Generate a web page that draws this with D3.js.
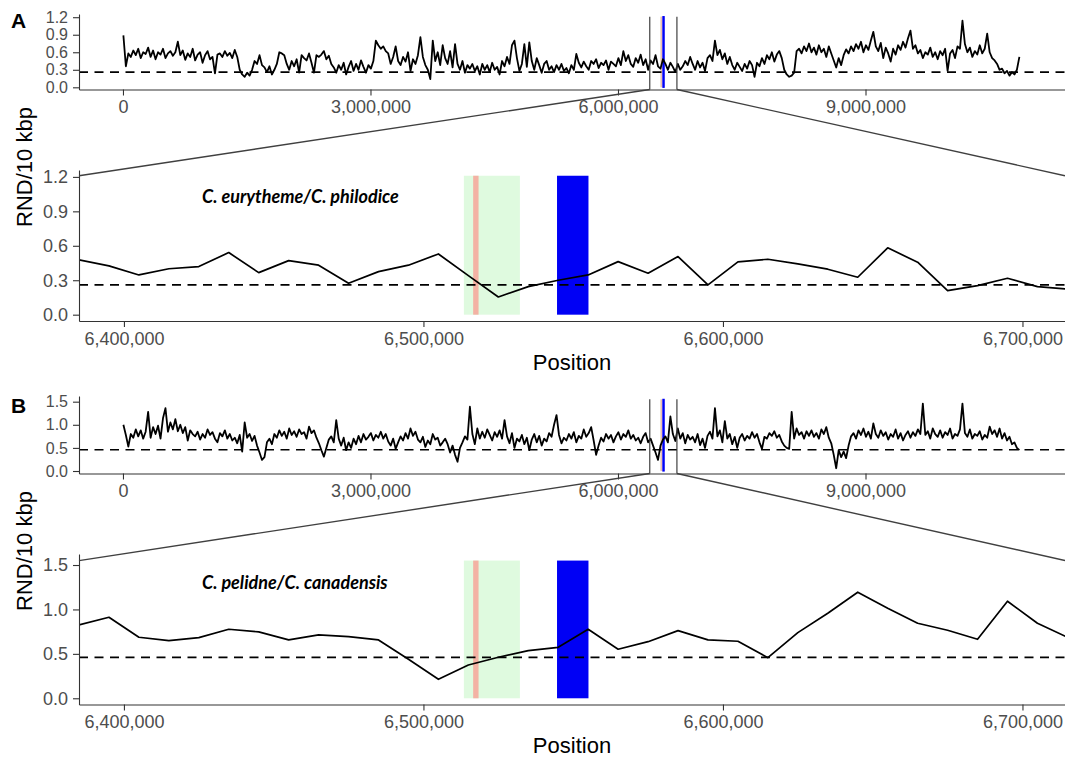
<!DOCTYPE html>
<html>
<head>
<meta charset="utf-8">
<script src="https://cdn.jsdelivr.net/npm/d3@7"></script>
<style>
  body { margin: 0; background: #fff; }
  svg { display: block; font-family: "Liberation Sans", Arial, sans-serif; }
  .tick text { fill: #4d4d4d; font-size: 18px; }
  .ov-y .tick text { font-size: 16px; }
  .domain, .tick line { stroke: #333; stroke-width: 1.1; }
</style>
</head>
<body>
<svg></svg>
<script>
// Genome-wide RND, 30 kb steps starting at 5 kb
const ovStart = 5000, ovStep = 30000;

const rndA = [
  0.89, 0.36, 0.58, 0.52, 0.63, 0.55, 0.66, 0.50, 0.60, 0.57,
  0.68, 0.52, 0.63, 0.48, 0.60, 0.56, 0.66, 0.50, 0.58, 0.62,
  0.54, 0.60, 0.78, 0.55, 0.63, 0.47, 0.58, 0.52, 0.66, 0.46,
  0.56, 0.60, 0.42, 0.55, 0.62, 0.48, 0.52, 0.24, 0.56, 0.58,
  0.52, 0.62, 0.54, 0.59, 0.50, 0.64, 0.52, 0.30, 0.22, 0.18,
  0.25, 0.20, 0.30, 0.45, 0.40, 0.55, 0.38, 0.34, 0.26, 0.36,
  0.22, 0.30, 0.40, 0.60, 0.58, 0.55, 0.40, 0.30, 0.45, 0.36,
  0.48, 0.25, 0.55, 0.50, 0.46, 0.58, 0.42, 0.25, 0.55, 0.52,
  0.56, 0.62, 0.48, 0.54, 0.40, 0.34, 0.25, 0.38, 0.30, 0.42,
  0.22, 0.35, 0.45, 0.28, 0.40, 0.30, 0.46, 0.35, 0.25, 0.38,
  0.32, 0.45, 0.80, 0.72, 0.66, 0.70, 0.62, 0.58, 0.40, 0.52,
  0.70, 0.45, 0.38, 0.52, 0.44, 0.60, 0.28, 0.48, 0.40, 0.55,
  0.86, 0.52, 0.38, 0.30, 0.14, 0.80, 0.45, 0.60, 0.38, 0.72,
  0.50, 0.40, 0.62, 0.34, 0.74, 0.40, 0.30, 0.45, 0.25, 0.38,
  0.32, 0.40, 0.28, 0.36, 0.22, 0.40, 0.30, 0.38, 0.26, 0.42,
  0.30, 0.35, 0.22, 0.45, 0.36, 0.52, 0.40, 0.72, 0.80, 0.50,
  0.28, 0.40, 0.74, 0.35, 0.77, 0.45, 0.30, 0.50, 0.38, 0.25,
  0.40, 0.45, 0.30, 0.36, 0.26, 0.38, 0.30, 0.40, 0.28, 0.33,
  0.24, 0.38, 0.30, 0.57, 0.42, 0.34, 0.44, 0.36, 0.30, 0.45,
  0.40, 0.48, 0.33, 0.42, 0.38, 0.46, 0.30, 0.44, 0.40, 0.36,
  0.50, 0.38, 0.62, 0.45, 0.55, 0.40, 0.35, 0.50, 0.42, 0.56,
  0.38, 0.48, 0.30, 0.46, 0.40, 0.55, 0.36, 0.32, 0.48, 0.40,
  0.30, 0.42, 0.35, 0.26, 0.40, 0.30, 0.36, 0.45, 0.38, 0.52,
  0.40, 0.30, 0.45, 0.34, 0.42, 0.28, 0.50, 0.55, 0.45, 0.80,
  0.55, 0.64, 0.48, 0.58, 0.40, 0.52, 0.38, 0.30, 0.42, 0.35,
  0.28, 0.40, 0.32, 0.45, 0.38, 0.18, 0.42, 0.36, 0.50, 0.40,
  0.55, 0.48, 0.60, 0.44, 0.56, 0.62, 0.50, 0.30, 0.22, 0.18,
  0.20, 0.25, 0.62, 0.66, 0.58, 0.70, 0.62, 0.75, 0.60, 0.68,
  0.56, 0.72, 0.60, 0.66, 0.52, 0.70, 0.58, 0.46, 0.34, 0.50,
  0.38, 0.55, 0.65, 0.58, 0.70, 0.62, 0.74, 0.66, 0.78, 0.60,
  0.72, 0.64, 0.80, 0.95, 0.70, 0.62, 0.76, 0.50, 0.68, 0.58,
  0.44, 0.66, 0.56, 0.72, 0.64, 0.78, 0.68, 0.84, 0.97, 0.66,
  0.72, 0.58, 0.64, 0.50, 0.60, 0.56, 0.68, 0.52, 0.60, 0.48,
  0.62, 0.55, 0.66, 0.28, 0.58, 0.64, 0.50, 0.70, 0.66, 1.14,
  0.74, 0.60, 0.68, 0.52, 0.62, 0.56, 0.72, 0.58, 0.66, 0.92,
  0.60, 0.50, 0.46, 0.40, 0.30, 0.32, 0.24, 0.28, 0.20, 0.26,
  0.22, 0.30, 0.52
];

const rndB = [
  1.00, 0.78, 0.53, 0.80, 0.72, 0.90, 0.75, 0.88, 0.70, 0.85,
  1.28, 0.72, 0.95, 0.80, 0.98, 0.70, 1.14, 1.36, 0.85, 1.05,
  0.90, 1.12, 0.86, 1.00, 0.82, 0.95, 0.66, 0.88, 0.80, 0.75,
  0.85, 0.68, 0.80, 0.72, 0.90, 0.78, 0.84, 0.70, 0.62, 0.82,
  0.75, 0.88, 0.70, 0.80, 0.66, 0.72, 0.60, 0.78, 0.42, 1.05,
  0.72, 0.80, 0.65, 0.76, 0.55, 0.40, 0.24, 0.30, 0.62, 0.70,
  0.58, 0.80, 0.72, 0.88, 0.76, 0.85, 0.70, 0.92, 0.78, 0.86,
  0.74, 0.90, 0.80, 0.84, 0.70, 0.96, 0.82, 0.88, 0.72, 0.60,
  0.45, 0.31, 0.50, 0.68, 0.75, 0.62, 1.10, 0.70, 0.55, 0.72,
  0.45, 0.62, 0.50, 0.70, 0.58, 0.76, 0.62, 0.80, 0.68, 0.74,
  0.82, 0.66, 0.78, 0.72, 0.85, 0.70, 0.80, 0.64, 0.55, 0.70,
  0.48, 0.62, 0.75, 0.66, 0.82, 0.70, 0.92, 0.76, 0.85, 0.68,
  0.62, 0.74, 0.52, 0.66, 0.58, 0.80, 0.68, 0.72, 0.55, 0.62,
  0.70, 0.58, 0.40, 0.55, 0.35, 0.20, 0.50, 0.62, 0.75, 0.68,
  1.39, 0.80, 0.58, 0.92, 0.70, 0.85, 0.72, 0.90, 0.78, 0.66,
  0.84, 0.74, 0.88, 0.70, 1.10, 0.75, 0.60, 0.82, 0.50, 0.70,
  0.64, 0.78, 0.58, 0.72, 0.45, 0.68, 0.80, 0.62, 0.76, 0.55,
  0.70, 0.64, 0.82, 0.74, 1.00, 1.21, 0.78, 0.60, 0.72, 0.66,
  0.80, 0.70, 0.84, 0.62, 0.76, 0.70, 0.90, 0.74, 0.82, 0.95,
  0.66, 0.35, 0.55, 0.72, 0.64, 0.80, 0.70, 0.78, 0.62, 0.75,
  0.84, 0.68, 0.80, 0.74, 0.88, 0.70, 0.78, 0.66, 0.72, 0.60,
  0.74, 0.82, 0.62, 0.70, 0.55, 0.40, 0.24, 0.55, 0.68, 0.75,
  0.62, 1.18, 0.80, 0.65, 0.92, 0.70, 0.82, 0.60, 0.78, 0.68,
  0.74, 0.62, 0.80, 0.56, 0.70, 0.50, 0.76, 0.85, 0.70, 1.36,
  0.75, 0.88, 0.62, 1.08, 0.70, 0.80, 0.58, 0.74, 0.50, 0.72,
  0.80, 0.66, 0.76, 0.70, 0.84, 0.72, 0.80, 0.62, 0.48, 0.74,
  0.70, 0.82, 0.76, 0.86, 0.72, 0.78, 0.64, 0.55, 0.50, 0.48,
  1.28, 0.70, 0.92, 0.78, 0.84, 0.70, 0.86, 0.76, 0.88, 0.74,
  0.82, 0.70, 0.90, 0.80, 0.95, 0.72, 0.60, 0.35, 0.06, 0.45,
  0.30, 0.42, 0.28, 0.55, 0.75, 0.82, 0.70, 0.88, 0.78, 0.92,
  0.74, 0.85, 0.70, 1.03, 0.80, 0.72, 0.88, 0.76, 0.84, 0.68,
  0.80, 0.74, 0.90, 0.70, 0.82, 0.66, 0.78, 0.86, 0.72, 0.84,
  0.76, 0.90, 0.80, 1.46, 0.78, 0.86, 0.70, 0.92, 0.80, 0.74,
  0.88, 0.72, 0.84, 0.78, 0.92, 0.70, 0.80, 0.76, 0.90, 1.46,
  0.82, 0.74, 0.90, 0.70, 0.80, 0.76, 0.86, 0.68, 0.78, 0.72,
  0.96, 0.80, 0.88, 0.74, 0.92, 0.70, 0.82, 0.66, 0.74, 0.58,
  0.62, 0.50, 0.45
];

// Zoomed region, 10 kb windows
const zoomPos = [
  6385000, 6395000, 6405000, 6415000, 6425000, 6435000, 6445000, 6455000, 6465000, 6475000,
  6485000, 6495000, 6505000, 6515000, 6525000, 6535000, 6545000, 6555000, 6565000, 6575000,
  6585000, 6595000, 6605000, 6615000, 6625000, 6635000, 6645000, 6655000, 6665000, 6675000,
  6685000, 6695000, 6705000, 6715000
];
const zoomA = [
  0.477, 0.425, 0.346, 0.400, 0.419, 0.541, 0.366, 0.471, 0.431, 0.274,
  0.375, 0.431, 0.529, 0.340, 0.154, 0.244, 0.300, 0.346, 0.462, 0.361,
  0.506, 0.259, 0.460, 0.483, 0.442, 0.396, 0.326, 0.582, 0.457, 0.209,
  0.253, 0.317, 0.244, 0.224
];
const zoomB = [
  0.825, 0.912, 0.687, 0.649, 0.683, 0.777, 0.747, 0.657, 0.713, 0.694,
  0.657, 0.440, 0.214, 0.375, 0.462, 0.536, 0.574, 0.777, 0.552, 0.637,
  0.761, 0.657, 0.642, 0.457, 0.739, 0.957, 1.194, 1.013, 0.845, 0.766,
  0.664, 1.092, 0.845, 0.687
];

// Genome-wide thresholds and top of the highlight boxes
const thresholds = [0.26, 0.46];
const boxTops = [1.21, 1.55];
const speciesLabels = ["C. eurytheme/C. philodice", "C. pelidne/C. canadensis"];
const panelTags = ["A", "B"];

// Highlighted intervals
const regionNames = ["green", "salmon", "blue"];
const regionStart = [6513500, 6516600, 6544600];
const regionEnd = [6532200, 6518400, 6555100];
const regionColors = { green: "#dffadf", salmon: "#f3b2a4", blue: "#0000f5" };

const zoomRange = [6385000, 6714200];
const ovTickValues = [0, 3000000, 6000000, 9000000];
const zoomTickValues = [6400000, 6500000, 6600000, 6700000];
const yTicksA = [0, 0.3, 0.6, 0.9, 1.2];
const yTicksB = [0, 0.5, 1.0, 1.5];

const width = 1065, height = 758;
const left = 79, right = 1065;

const svg = d3.select("svg")
    .attr("width", width)
    .attr("height", height);

// Layout of each figure part (overview + zoom)
const layout = [
  { ovDomain: [-0.0375, 1.255], ovRange: [89.5, 14], zDomain: [-0.055, 1.26], zRange: [321, 170],
    yTicks: yTicksA, tagY: 28, titleY: 167, posY: 370, speciesY: 203 },
  { ovDomain: [-0.054, 1.623], ovRange: [473.5, 396], zDomain: [-0.07, 1.624], zRange: [704.5, 554],
    yTicks: yTicksB, tagY: 413, titleY: 551, posY: 753, speciesY: 589 }
];

const xO = d3.scaleLinear().domain([-533000, 11418000]).range([left, right]);
const xZ = d3.scaleLinear().domain(zoomRange).range([left, right]);

const regions = regionNames.map((n, i) => ({ name: n, start: regionStart[i], end: regionEnd[i] }));

function drawPart(k, ovValues, zValues) {
  const L = layout[k];
  const yO = d3.scaleLinear().domain(L.ovDomain).range(L.ovRange);
  const yZ = d3.scaleLinear().domain(L.zDomain).range(L.zRange);
  const g = svg.append("g");
  const fmt = d3.format(",");

  // clip paths
  const clipO = "clipO" + k, clipZ = "clipZ" + k;
  svg.append("clipPath").attr("id", clipO).append("rect")
    .attr("x", left).attr("y", L.ovRange[1]).attr("width", right - left).attr("height", L.ovRange[0] - L.ovRange[1]);
  svg.append("clipPath").attr("id", clipZ).append("rect")
    .attr("x", left).attr("y", L.zRange[1]).attr("width", right - left).attr("height", L.zRange[0] - L.zRange[1]);

  // ---- overview ----
  const ov = ovValues.map((v, i) => ({ pos: ovStart + i * ovStep, v }));

  g.append("g").attr("clip-path", `url(#${clipO})`)
    .selectAll("rect").data(regions).join("rect")
      .attr("x", d => xO(d.start))
      .attr("width", d => Math.max(1.2, xO(d.end) - xO(d.start)))
      .attr("y", yO(boxTops[k]))
      .attr("height", yO(0) - yO(boxTops[k]))
      .attr("fill", d => regionColors[d.name])
      .attr("stroke", d => d.name === "blue" ? regionColors.blue : "none")
      .attr("stroke-width", 1.2);

  g.append("path")
    .datum(ov)
    .attr("clip-path", `url(#${clipO})`)
    .attr("fill", "none")
    .attr("stroke", "#000")
    .attr("stroke-width", 1.8)
    .attr("stroke-linejoin", "round")
    .attr("d", d3.line().x(d => xO(d.pos)).y(d => yO(d.v)));

  g.append("line")
    .attr("x1", left).attr("x2", right)
    .attr("y1", yO(thresholds[k])).attr("y2", yO(thresholds[k]))
    .attr("stroke", "#000").attr("stroke-width", 1.6).attr("stroke-dasharray", "9,6.5");

  // zoom window markers
  g.selectAll(".win").data(zoomRange).join("line")
    .attr("class", "win")
    .attr("x1", d => xO(d)).attr("x2", d => xO(d))
    .attr("y1", yO(boxTops[k])).attr("y2", L.ovRange[0])
    .attr("stroke", "#404040").attr("stroke-width", 1.2);

  g.append("g")
    .attr("class", "ov-y")
    .attr("transform", `translate(${left},0)`)
    .call(d3.axisLeft(yO).tickValues(L.yTicks).tickFormat(d3.format(".1f")).tickSize(6).tickPadding(5).tickSizeOuter(0));
  g.append("g")
    .attr("transform", `translate(0,${L.ovRange[0]})`)
    .call(d3.axisBottom(xO).tickValues(ovTickValues).tickFormat(fmt).tickSize(6).tickPadding(5).tickSizeOuter(0));

  // ---- zoom ----
  const zd = zoomPos.map((p, i) => ({ pos: p, v: zValues[i] }));

  g.append("g").attr("clip-path", `url(#${clipZ})`)
    .selectAll("rect").data(regions).join("rect")
      .attr("x", d => xZ(d.start))
      .attr("width", d => xZ(d.end) - xZ(d.start))
      .attr("y", yZ(boxTops[k]))
      .attr("height", yZ(0) - yZ(boxTops[k]))
      .attr("fill", d => regionColors[d.name]);

  g.append("line")
    .attr("x1", left).attr("x2", right)
    .attr("y1", yZ(thresholds[k])).attr("y2", yZ(thresholds[k]))
    .attr("stroke", "#000").attr("stroke-width", 1.6).attr("stroke-dasharray", "9,6.5");

  g.append("path")
    .datum(zd)
    .attr("clip-path", `url(#${clipZ})`)
    .attr("fill", "none")
    .attr("stroke", "#000")
    .attr("stroke-width", 1.7)
    .attr("stroke-linejoin", "round")
    .attr("d", d3.line().x(d => xZ(d.pos)).y(d => yZ(d.v)));

  g.append("g")
    .attr("transform", `translate(${left},0)`)
    .call(d3.axisLeft(yZ).tickValues(L.yTicks).tickFormat(d3.format(".1f")).tickSize(6).tickPadding(5).tickSizeOuter(0));
  g.append("g")
    .attr("transform", `translate(0,${L.zRange[0]})`)
    .call(d3.axisBottom(xZ).tickValues(zoomTickValues).tickFormat(fmt).tickSize(6).tickPadding(5).tickSizeOuter(0));

  // connectors from overview window to zoom panel
  g.append("line")
    .attr("x1", xO(zoomRange[0])).attr("y1", L.ovRange[0])
    .attr("x2", left).attr("y2", yZ(boxTops[k]))
    .attr("stroke", "#404040").attr("stroke-width", 1.4);
  g.append("line")
    .attr("x1", xO(zoomRange[1])).attr("y1", L.ovRange[0])
    .attr("x2", right).attr("y2", yZ(boxTops[k]))
    .attr("stroke", "#404040").attr("stroke-width", 1.4);

  // species label
  g.append("text")
    .attr("x", 202).attr("y", L.speciesY)
    .style("font-family", "Lato, 'Open Sans', sans-serif")
    .style("font-style", "italic")
    .style("font-weight", 700)
    .style("font-size", "18px")
    .text(speciesLabels[k]);

  // axis titles and tag
  g.append("text")
    .attr("transform", `translate(31.5,${L.titleY}) rotate(-90)`)
    .attr("text-anchor", "middle")
    .style("font-size", "22px")
    .text("RND/10 kbp");
  g.append("text")
    .attr("x", (left + right) / 2).attr("y", L.posY)
    .attr("text-anchor", "middle")
    .style("font-size", "22px")
    .text("Position");
  g.append("text")
    .attr("x", 11).attr("y", L.tagY)
    .style("font-size", "21px")
    .style("font-weight", "bold")
    .text(panelTags[k]);
}

drawPart(0, rndA, zoomA);
drawPart(1, rndB, zoomB);
</script>
</body>
</html>
